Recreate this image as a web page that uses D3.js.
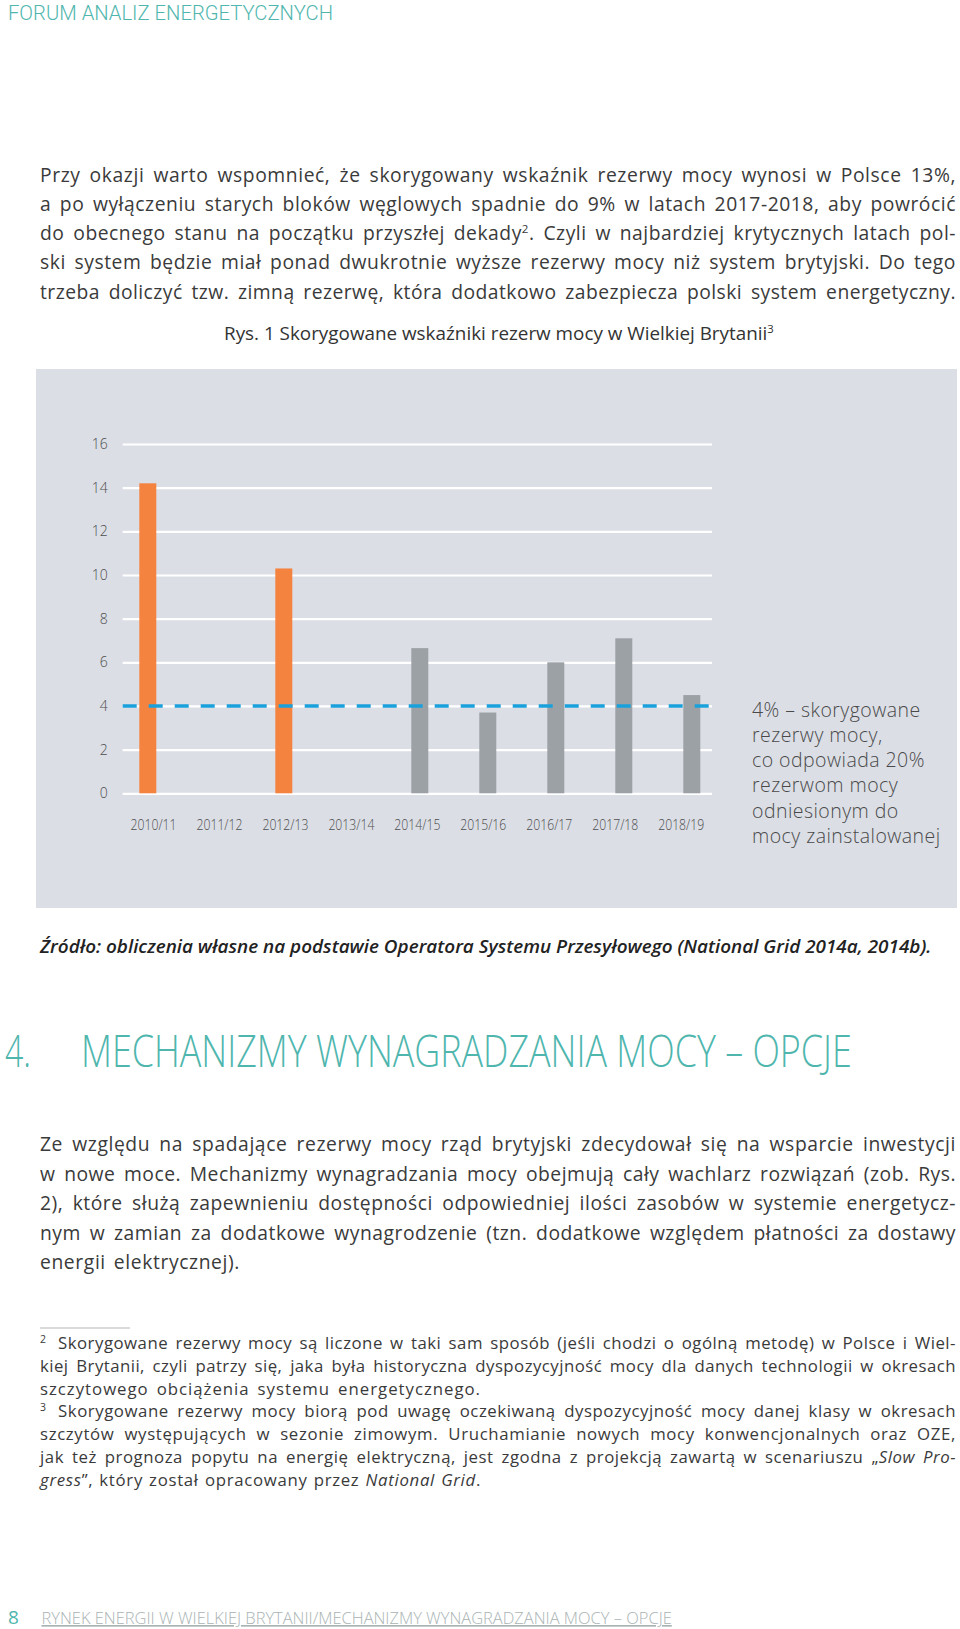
<!DOCTYPE html>
<html><head><meta charset="utf-8">
<script src="https://cdn.jsdelivr.net/npm/d3@7"></script>
<style>
body{margin:0;background:#fff}
svg{display:block}
</style>
</head><body>
<svg id="page" width="960" height="1629"></svg>
<script>
// ---------- DATA ----------
const categories = ["2010/11","2011/12","2012/13","2013/14","2014/15","2015/16","2016/17","2017/18","2018/19"];
const reserveValues = [14.2, null, 10.3, null, 6.65, 3.7, 6.0, 7.1, 4.5];
const seriesKind = ["historyczne", null, "historyczne", null, "prognoza", "prognoza", "prognoza", "prognoza", "prognoza"];
const yTickValues = [0, 2, 4, 6, 8, 10, 12, 14, 16];
const thresholdValue = 4;
const annotationLines = ["4% – skorygowane", "rezerwy mocy,", "co odpowiada 20%", "rezerwom mocy", "odniesionym do", "mocy zainstalowanej"];
const chartTitle = [{t:"Rys. 1 Skorygowane wskaźniki rezerw mocy w Wielkiej Brytanii"},{t:"3",sup:true}];
const sourceText = "Źródło: obliczenia własne na podstawie Operatora Systemu Przesyłowego (National Grid 2014a, 2014b).";
const headerText = "FORUM ANALIZ ENERGETYCZNYCH";
const headingNum = "4.";
const headingText = "MECHANIZMY WYNAGRADZANIA MOCY – OPCJE";
const footerNum = "8";
const footerText = "RYNEK ENERGII W WIELKIEJ BRYTANII/MECHANIZMY WYNAGRADZANIA MOCY – OPCJE";

const para1 = [
  [{t:"Przy okazji warto wspomnieć, że skorygowany wskaźnik rezerwy mocy wynosi w Polsce 13%,"}],
  [{t:"a po wyłączeniu starych bloków węglowych spadnie do 9% w latach 2017-2018, aby powrócić"}],
  [{t:"do obecnego stanu na początku przyszłej dekady"},{t:"2",sup:true},{t:". Czyli w najbardziej krytycznych latach pol-"}],
  [{t:"ski system będzie miał ponad dwukrotnie wyższe rezerwy mocy niż system brytyjski. Do tego"}],
  [{t:"trzeba doliczyć tzw. zimną rezerwę, która dodatkowo zabezpiecza polski system energetyczny."}]
];
const para2 = [
  [{t:"Ze względu na spadające rezerwy mocy rząd brytyjski zdecydował się na wsparcie inwestycji"}],
  [{t:"w nowe moce. Mechanizmy wynagradzania mocy obejmują cały wachlarz rozwiązań (zob. Rys."}],
  [{t:"2), które służą zapewnieniu dostępności odpowiedniej ilości zasobów w systemie energetycz-"}],
  [{t:"nym w zamian za dodatkowe wynagrodzenie (tzn. dodatkowe względem płatności za dostawy"}],
  [{t:"energii elektrycznej)."}]
];
const footnotes = [
  {mark:"2", segs:[{t:"Skorygowane rezerwy mocy są liczone w taki sam sposób (jeśli chodzi o ogólną metodę) w Polsce i Wiel-"}], full:true},
  {segs:[{t:"kiej Brytanii, czyli patrzy się, jaka była historyczna dyspozycyjność mocy dla danych technologii w okresach"}], full:true},
  {segs:[{t:"szczytowego obciążenia systemu energetycznego."}], full:false},
  {mark:"3", segs:[{t:"Skorygowane rezerwy mocy biorą pod uwagę oczekiwaną dyspozycyjność mocy danej klasy w okresach"}], full:true},
  {segs:[{t:"szczytów występujących w sezonie zimowym. Uruchamianie nowych mocy konwencjonalnych oraz OZE,"}], full:true},
  {segs:[{t:"jak też prognoza popytu na energię elektryczną, jest zgodna z projekcją zawartą w scenariuszu „"},{t:"Slow Pro-",it:true}], full:true},
  {segs:[{t:"gress",it:true},{t:"”, który został opracowany przez "},{t:"National Grid",it:true},{t:"."}], full:false}
];

// ---------- STYLE ----------
const FONT = "'Open Sans', 'Noto Sans', sans-serif";
const TEXT = "#3a3a3a";
const TEAL = "#4fb6ae";
const svg = d3.select("#page");

function drawLine(g, x, y, segs, o){
  const holder = g.append("g");
  const t = holder.append("text").attr("x", x).attr("y", y)
    .attr("font-family", o.family || FONT)
    .attr("font-size", o.size)
    .attr("font-weight", o.weight || 400)
    .attr("fill", o.fill || TEXT);
  if (o.style) t.attr("font-style", o.style);
  if (o.anchor) t.attr("text-anchor", o.anchor);
  if (o.ls) t.attr("letter-spacing", o.ls);
  let raised = false;
  segs.forEach(s => {
    const ts = t.append("tspan").text(s.t);
    if (s.sup){ ts.attr("dy", -o.size*0.38).attr("font-size", o.size*0.6); raised = true; }
    else if (raised){ ts.attr("dy", o.size*0.38); raised = false; }
    if (s.it) ts.attr("font-style","italic");
  });
  if (o.width){
    const full = segs.map(s=>s.t).join("");
    const n = (full.match(/ /g)||[]).length;
    const nc = full.length;
    let w = t.node().getComputedTextLength();
    if (o.squeeze){
      const k = o.width / w;
      t.attr("x", 0).attr("y", 0);
      holder.attr("transform", `translate(${x},${y}) scale(${k},1)`);
    } else {
      let extra = o.width - w;
      if (extra > 0){
        const share = o.loose ? 0.85 : 0.55;
        const ls = Math.min(extra*share/nc, o.loose ? 1.6 : 0.9);
        t.attr("letter-spacing", ls);
        w = t.node().getComputedTextLength();
        extra = o.width - w;
      }
      if (n>0) t.attr("word-spacing", extra/n);
    }
  }
  return t;
}

// header
drawLine(svg, 8, 19.5, [{t:headerText}], {size:20, weight:300, family:"Roboto, 'Open Sans', sans-serif", fill:TEAL, width:325, squeeze:true});

// paragraph 1
const p1Base = [181.7, 210.9, 240.1, 269.3, 298.5];
para1.forEach((segs,i)=> drawLine(svg, 40, p1Base[i], segs, {size:19.3, width:916}));

// chart title
drawLine(svg, 224, 340, chartTitle, {size:18.5, weight:500, fill:"#333", width:550, squeeze:true});

// ---------- CHART ----------
const panel = {x:36, y:369, w:921, h:539};
svg.append("rect").attr("x",panel.x).attr("y",panel.y).attr("width",panel.w).attr("height",panel.h).attr("fill","#dbdee5");

const plotLeft = 122.7, plotRight = 712;
const y = d3.scaleLinear().domain([0,16]).range([793.3, 444]);
const xLabel = d3.scalePoint().domain(categories).range([153, 680.7]);
const xBar = d3.scalePoint().domain(categories).range([147.8, 691.8]);
const barW = 17;
const color = d3.scaleOrdinal().domain(["historyczne","prognoza"]).range(["#f58340","#9ca1a6"]);

const chart = svg.append("g");
const yAxis = d3.axisLeft(y).tickValues(yTickValues).tickSize(-(plotRight-plotLeft)).tickPadding(15).tickFormat(d3.format("d"));
const ga = chart.append("g").attr("transform",`translate(${plotLeft},0)`).call(yAxis);
ga.select(".domain").remove();
ga.selectAll(".tick line").attr("stroke","#ffffff").attr("stroke-width",2.2);
ga.selectAll(".tick text").attr("font-family",FONT).attr("font-size",14).attr("font-weight",300).attr("fill","#4d4d4d");

const xAxis = d3.axisBottom(xLabel).tickSize(0).tickPadding(0);
const gx = chart.append("g").attr("transform","translate(0,819)").call(xAxis);
gx.select(".domain").remove();
gx.selectAll(".tick text").attr("font-family",FONT).attr("font-size",15).attr("font-weight",300).attr("fill","#4d4d4d")
  .attr("dy","0.71em").attr("textLength",46).attr("lengthAdjust","spacingAndGlyphs");

const barData = categories.map((c,i)=>({c, v:reserveValues[i], k:seriesKind[i]})).filter(d=>d.v!=null);
chart.append("g").selectAll("rect").data(barData).join("rect")
  .attr("x", d=>xBar(d.c)-barW/2).attr("width", barW)
  .attr("y", d=>y(d.v)).attr("height", d=>y(0)-y(d.v))
  .attr("fill", d=>color(d.k));

chart.append("line").attr("x1",plotLeft).attr("x2",plotRight)
  .attr("y1",y(thresholdValue)).attr("y2",y(thresholdValue))
  .attr("stroke","#1aa1dc").attr("stroke-width",3.3).attr("stroke-dasharray","14 12");

annotationLines.forEach((l,i)=> drawLine(svg, 752, 716.8 + i*25.2, [{t:l}], {size:19.5, weight:300, fill:"#4a4a4a", ls:0.45}));

// source
drawLine(svg, 40, 953, [{t:sourceText}], {size:17.5, weight:600, style:"italic", fill:"#222", width:892, squeeze:true});

// section heading
drawLine(svg, 5, 1067, [{t:headingNum}], {size:44, weight:300, fill:TEAL, width:26, squeeze:true});
drawLine(svg, 81, 1067, [{t:headingText}], {size:44, weight:300, fill:TEAL, width:771, squeeze:true});

// paragraph 2
const p2Base = [1151, 1180.5, 1210, 1239.5, 1269];
para2.forEach((segs,i)=> drawLine(svg, 40, p2Base[i], segs,
  i<para2.length-1 ? {size:19.3, width:916} : {size:19.3, width:200, loose:true}));

// footnote rule
svg.append("line").attr("x1",40).attr("x2",130).attr("y1",1328).attr("y2",1328).attr("stroke","#b5b5b5").attr("stroke-width",1);

// footnotes
const fnBase = [1349, 1372, 1394.5, 1417, 1440, 1463, 1485.5];
footnotes.forEach((f,i)=>{
  let x = 40;
  if (f.mark){
    svg.append("text").attr("x",40).attr("y",fnBase[i]-6).attr("font-family",FONT).attr("font-size",10.5).attr("fill",TEXT).text(f.mark);
    x = 58;
  }
  drawLine(svg, x, fnBase[i], f.segs, f.full ? {size:16.8, width:956-x} : {size:16.8, width:441, loose:true});
});

// footer
drawLine(svg, 8, 1624, [{t:footerNum}], {size:19, weight:400, fill:TEAL});
drawLine(svg, 41.5, 1624, [{t:footerText}], {size:16.5, weight:300, fill:"#a9b3b3", width:630.5, squeeze:true})
  .attr("text-decoration","underline");
</script>
</body></html>
